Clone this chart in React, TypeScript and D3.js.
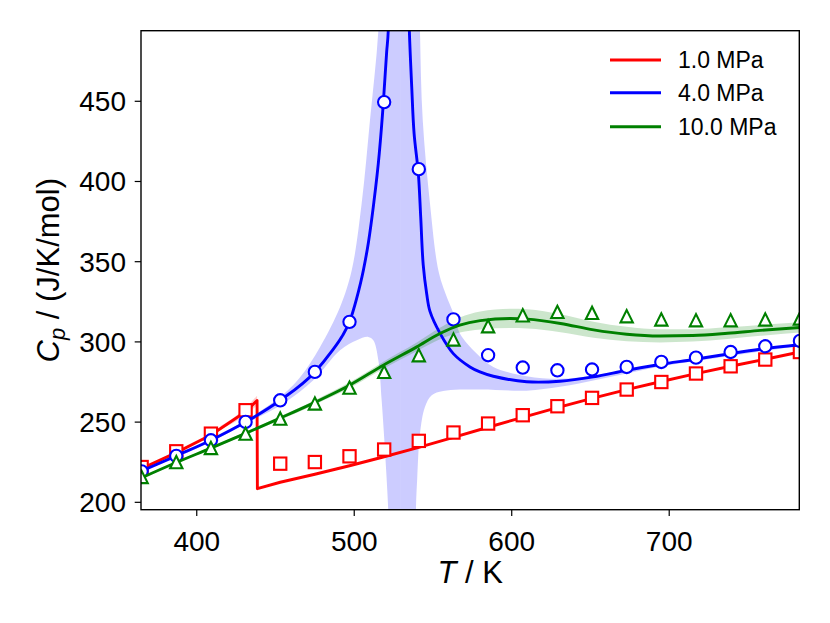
import React from "react";
import * as d3 from "d3";

// ---- data ----
const T_DATA = [365, 387, 409, 431, 453, 475, 497, 519, 541, 563, 585, 607, 629, 651, 673, 695, 717, 739, 761, 783];
const CP_1MPA = [222, 231.8, 242.8, 257.4, 224.1, 225.1, 228.7, 232.9, 238.3, 243.5, 249.1, 254.3, 259.9, 265.1, 270.3, 275.0, 280.3, 284.8, 289.0, 293.7];
const CP_4MPA = [219.3, 228.9, 238.7, 250.1, 263.6, 281.3, 312.5, 449.5, 407.7, 314.0, 291.7, 284.0, 282.3, 282.8, 284.4, 287.5, 290.2, 293.7, 297.3, 300.6];
const CP_10MPA = [215.8, 225.1, 233.9, 242.8, 252.2, 261.6, 271.5, 281.3, 291.7, 301.5, 309.8, 316.6, 318.7, 318.1, 316.0, 314.0, 313.5, 313.5, 314.0, 314.6];

// model curves
const RED_T = [365, 387, 409, 431, 438.3, 438.5, 453, 475, 497, 519, 541, 563, 585, 607, 629, 651, 673, 695, 717, 739, 761, 783];
const RED_V = [221, 231, 242, 256.5, 263.5, 208.5, 212.5, 217.5, 222.8, 228.4, 234.2, 240.5, 246.8, 253, 259, 264.8, 270.3, 275.3, 280.2, 284.8, 289.2, 293.7];
const RED_BAND_T = [415, 425, 431, 438.3];
const RED_BAND_LO = [245.5, 250.5, 254.5, 260.5];
const RED_BAND_HI = [247.5, 254, 259, 266.5];

const BLUE_L_T = [365, 387, 409, 431, 453, 475, 486, 492, 497, 501.5, 505.8, 509, 512.1, 515.9, 518.5, 520.6, 521.6, 522.3];
const BLUE_L_V = [219.5, 229, 238.7, 250, 263.6, 281.3, 294.5, 303, 312.5, 327, 344.7, 362, 384.2, 417.5, 449.5, 481, 494, 515];
const BLUE_R_T = [534.6, 535, 536.5, 538, 540.7, 542.2, 543.8, 546, 548.1, 554.4, 562.9, 573.5, 579.8, 588.3, 609.5, 630.6, 651.8, 673, 694, 715.3, 736.5, 757.6, 783];
const BLUE_R_V = [515, 494, 459, 430, 405, 378, 348, 330, 319, 305.5, 292.7, 284.4, 281.3, 278.6, 275.2, 275.5, 278.2, 282.3, 285.9, 289, 292.3, 295.4, 298.2];

// blue uncertainty band, left of the pole
const BLUE_BAND_L_UP_T = [365, 400, 430, 452.9, 465.6, 478.3, 491, 498.4, 504.7, 510, 515.3, 517.5];
const BLUE_BAND_L_UP_V = [219.5, 234.5, 250.5, 265.6, 278, 296.9, 321.8, 344.7, 386.3, 438.3, 494, 560];
const BLUE_BAND_L_LO_T = [365, 400, 430, 455, 474, 491, 501.6, 508.9, 512.1, 515.3, 517.4, 519.5, 521.6, 523];
const BLUE_BAND_L_LO_V = [219.5, 233.5, 248.5, 261.6, 276.1, 294.8, 301, 303.1, 301, 288.6, 263.6, 232.4, 195, 150];
// blue uncertainty band, right of the pole
const BLUE_BAND_R_UP_T = [541, 541.75, 543.5, 548.1, 553.4, 558, 562.9, 567.1, 577.7, 588.3, 609.5, 630.6, 651.8, 673, 700, 783];
const BLUE_BAND_R_UP_V = [560, 494, 438.3, 386.3, 344.7, 330, 318, 305.2, 292.7, 284.4, 278.6, 277, 279, 282.8, 287.5, 298.8];
const BLUE_BAND_R_LO_T = [539, 539.2, 540, 541.75, 544.9, 549.2, 556.5, 579.8, 609.5, 630.6, 651.8, 673, 694, 720, 783];
const BLUE_BAND_R_LO_V = [150, 195, 215, 242.8, 259.4, 266.7, 269.4, 270.3, 269.6, 272, 276, 280.3, 284.5, 288.5, 297.6];
const BLUE_POLE_SPLIT = 529.2;

const GREEN_T = [365, 387, 409, 431, 453, 475, 497, 518.5, 539.7, 554.4, 567, 580, 599, 610, 631, 652, 673, 694, 715, 737, 758, 783];
const GREEN_V = [215.3, 224.8, 233.8, 243, 252.5, 262.3, 273, 285.5, 296.9, 305.2, 310.5, 313.3, 314.6, 314.2, 311.5, 307.5, 304.8, 303.7, 304.0, 305.4, 307.2, 309];
const GREEN_BAND_LO = [214.8, 224.2, 233.1, 242.1, 251.4, 260.9, 271.2, 283.3, 294.2, 301.6, 305.8, 307.8, 308.6, 308.3, 306.0, 302.6, 300.4, 299.7, 300.2, 301.8, 303.8, 305.8];
const GREEN_BAND_HI = [215.8, 225.4, 234.5, 243.9, 253.6, 263.7, 274.8, 287.7, 299.6, 308.8, 315.2, 318.9, 320.6, 320.3, 317.2, 312.6, 309.4, 307.9, 307.9, 309.1, 310.6, 312.2];

const X_TICKS = [400, 500, 600, 700];
const Y_TICKS = [200, 250, 300, 350, 400, 450];
const SERIES_LABELS = ["1.0 MPa", "4.0 MPa", "10.0 MPa"];
const SERIES_COLORS = ["#ff0000", "#0000ff", "#008000"];

// ---- layout ----
const W = 830, H = 623;
const L = 141, R = 799.3, TOP = 30.7, B = 509.7;
const FONT = "'Liberation Sans', Arial, Helvetica, sans-serif";

const x = d3.scaleLinear().domain([364.6, 782.6]).range([L, R]);
const y = d3.scaleLinear().domain([195.4, 494]).range([B, TOP]);

type P = [number, number];
const zip = (ts: number[], vs: number[]): P[] => ts.map((t, i) => [t, vs[i]]);

const lineGen = (curve: d3.CurveFactory) =>
  d3.line<P>().x((d) => x(d[0])).y((d) => y(d[1])).curve(curve);

// join several point runs into one closed polygon path
function polygon(runs: { pts: P[]; smooth: boolean }[]): string {
  let out = "";
  runs.forEach((r, i) => {
    const s = lineGen(r.smooth ? d3.curveCatmullRom : d3.curveLinear)(r.pts) || "";
    out += i === 0 ? s : "L" + s.slice(1);
  });
  return out + "Z";
}

const SQ = 12.3;
const MW = 2.1;

function Square({ cx, cy, color }: { cx: number; cy: number; color: string }) {
  return <rect x={cx - SQ / 2} y={cy - SQ / 2} width={SQ} height={SQ} fill="white" stroke={color} strokeWidth={MW} />;
}
function Circle({ cx, cy, color }: { cx: number; cy: number; color: string }) {
  return <circle cx={cx} cy={cy} r={SQ / 2} fill="white" stroke={color} strokeWidth={MW} />;
}
function Tri({ cx, cy, color }: { cx: number; cy: number; color: string }) {
  const h = SQ / 2;
  return (
    <path d={`M${cx},${cy - h}L${cx - h},${cy + h}L${cx + h},${cy + h}Z`} fill="white" stroke={color} strokeWidth={MW} strokeLinejoin="miter" />
  );
}

export default function App() {
  const smooth = lineGen(d3.curveMonotoneX);
  const redPath = lineGen(d3.curveLinear)(zip(RED_T, RED_V)) || "";
  const blueL = smooth(zip(BLUE_L_T, BLUE_L_V)) || "";
  const blueR = lineGen(d3.curveCatmullRom)(zip(BLUE_R_T, BLUE_R_V)) || "";
  const greenPath = smooth(zip(GREEN_T, GREEN_V)) || "";

  const bandArea = (ts: number[], lo: number[], hi: number[]) =>
    d3
      .area<number>()
      .x((_, i) => x(ts[i]))
      .y0((_, i) => y(lo[i]))
      .y1((_, i) => y(hi[i]))
      .curve(d3.curveMonotoneX)(ts) || "";

  const blueBandL = polygon([
    { pts: zip(BLUE_BAND_L_UP_T, BLUE_BAND_L_UP_V), smooth: true },
    { pts: [[BLUE_POLE_SPLIT, 560], [BLUE_POLE_SPLIT, 150]], smooth: false },
    { pts: zip(BLUE_BAND_L_LO_T, BLUE_BAND_L_LO_V).reverse(), smooth: true },
  ]);
  const blueBandR = polygon([
    { pts: [[BLUE_POLE_SPLIT, 150], [BLUE_POLE_SPLIT, 560]], smooth: false },
    { pts: zip(BLUE_BAND_R_UP_T, BLUE_BAND_R_UP_V), smooth: true },
    { pts: zip(BLUE_BAND_R_LO_T, BLUE_BAND_R_LO_V).reverse(), smooth: true },
  ]);

  const lw = 2.9;

  return (
    <svg width={W} height={H} style={{ position: "absolute", left: 0, top: 0, background: "white" }} fontFamily={FONT}>
      <defs>
        <clipPath id="plot">
          <rect x={L} y={TOP} width={R - L} height={B - TOP} />
        </clipPath>
      </defs>
      <rect x={0} y={0} width={W} height={H} fill="white" />
      <g clipPath="url(#plot)">
        {/* bands */}
        <path d={bandArea(RED_BAND_T, RED_BAND_LO, RED_BAND_HI)} fill="#ff0000" fillOpacity={0.2} />
        <path d={blueBandL} fill="#0000ff" fillOpacity={0.2} />
        <path d={blueBandR} fill="#0000ff" fillOpacity={0.2} />
        <path d={bandArea(GREEN_T, GREEN_BAND_LO, GREEN_BAND_HI)} fill="#008000" fillOpacity={0.2} />

        {/* red */}
        <path d={redPath} fill="none" stroke={SERIES_COLORS[0]} strokeWidth={lw} strokeLinejoin="round" />
        {T_DATA.map((t, i) => (
          <Square key={"r" + i} cx={x(t)} cy={y(CP_1MPA[i])} color={SERIES_COLORS[0]} />
        ))}
        {/* blue */}
        <path d={blueL} fill="none" stroke={SERIES_COLORS[1]} strokeWidth={lw} />
        <path d={blueR} fill="none" stroke={SERIES_COLORS[1]} strokeWidth={lw} />
        {T_DATA.map((t, i) => (
          <Circle key={"b" + i} cx={x(t)} cy={y(CP_4MPA[i])} color={SERIES_COLORS[1]} />
        ))}
        {/* green */}
        <path d={greenPath} fill="none" stroke={SERIES_COLORS[2]} strokeWidth={lw} />
        {T_DATA.map((t, i) => (
          <Tri key={"g" + i} cx={x(t)} cy={y(CP_10MPA[i])} color={SERIES_COLORS[2]} />
        ))}
      </g>

      {/* spines */}
      <rect x={L} y={TOP} width={R - L} height={B - TOP} fill="none" stroke="black" strokeWidth={1.4} />

      {/* x ticks */}
      {X_TICKS.map((t) => (
        <g key={"xt" + t}>
          <line x1={x(t)} x2={x(t)} y1={B} y2={B + 6.3} stroke="black" strokeWidth={1.2} />
          <text x={x(t)} y={B + 41} fontSize={28} textAnchor="middle" fill="black">
            {t}
          </text>
        </g>
      ))}
      {/* y ticks */}
      {Y_TICKS.map((v) => (
        <g key={"yt" + v}>
          <line x1={L - 6.3} x2={L} y1={y(v)} y2={y(v)} stroke="black" strokeWidth={1.2} />
          <text x={L - 15} y={y(v) + 10} fontSize={28} textAnchor="end" fill="black">
            {v}
          </text>
        </g>
      ))}

      {/* axis labels */}
      <text x={(L + R) / 2} y={583} fontSize={31} textAnchor="middle" fill="black">
        <tspan fontStyle="italic">T</tspan>
        <tspan> / K</tspan>
      </text>
      <text transform={`translate(59, ${(TOP + B) / 2}) rotate(-90)`} fontSize={31} textAnchor="middle" fill="black">
        <tspan fontStyle="italic">C</tspan>
        <tspan fontStyle="italic" fontSize={22} dy={6}>p</tspan>
        <tspan dy={-6}> / (J/K/mol)</tspan>
      </text>

      {/* legend */}
      {SERIES_LABELS.map((lab, i) => {
        const ly = [60, 92.7, 126.7][i];
        return (
          <g key={"lg" + i}>
            <line x1={610} x2={661} y1={ly} y2={ly} stroke={SERIES_COLORS[i]} strokeWidth={lw} />
            <text x={678} y={ly + 8} fontSize={23} fill="black">
              {lab}
            </text>
          </g>
        );
      })}
    </svg>
  );
}
